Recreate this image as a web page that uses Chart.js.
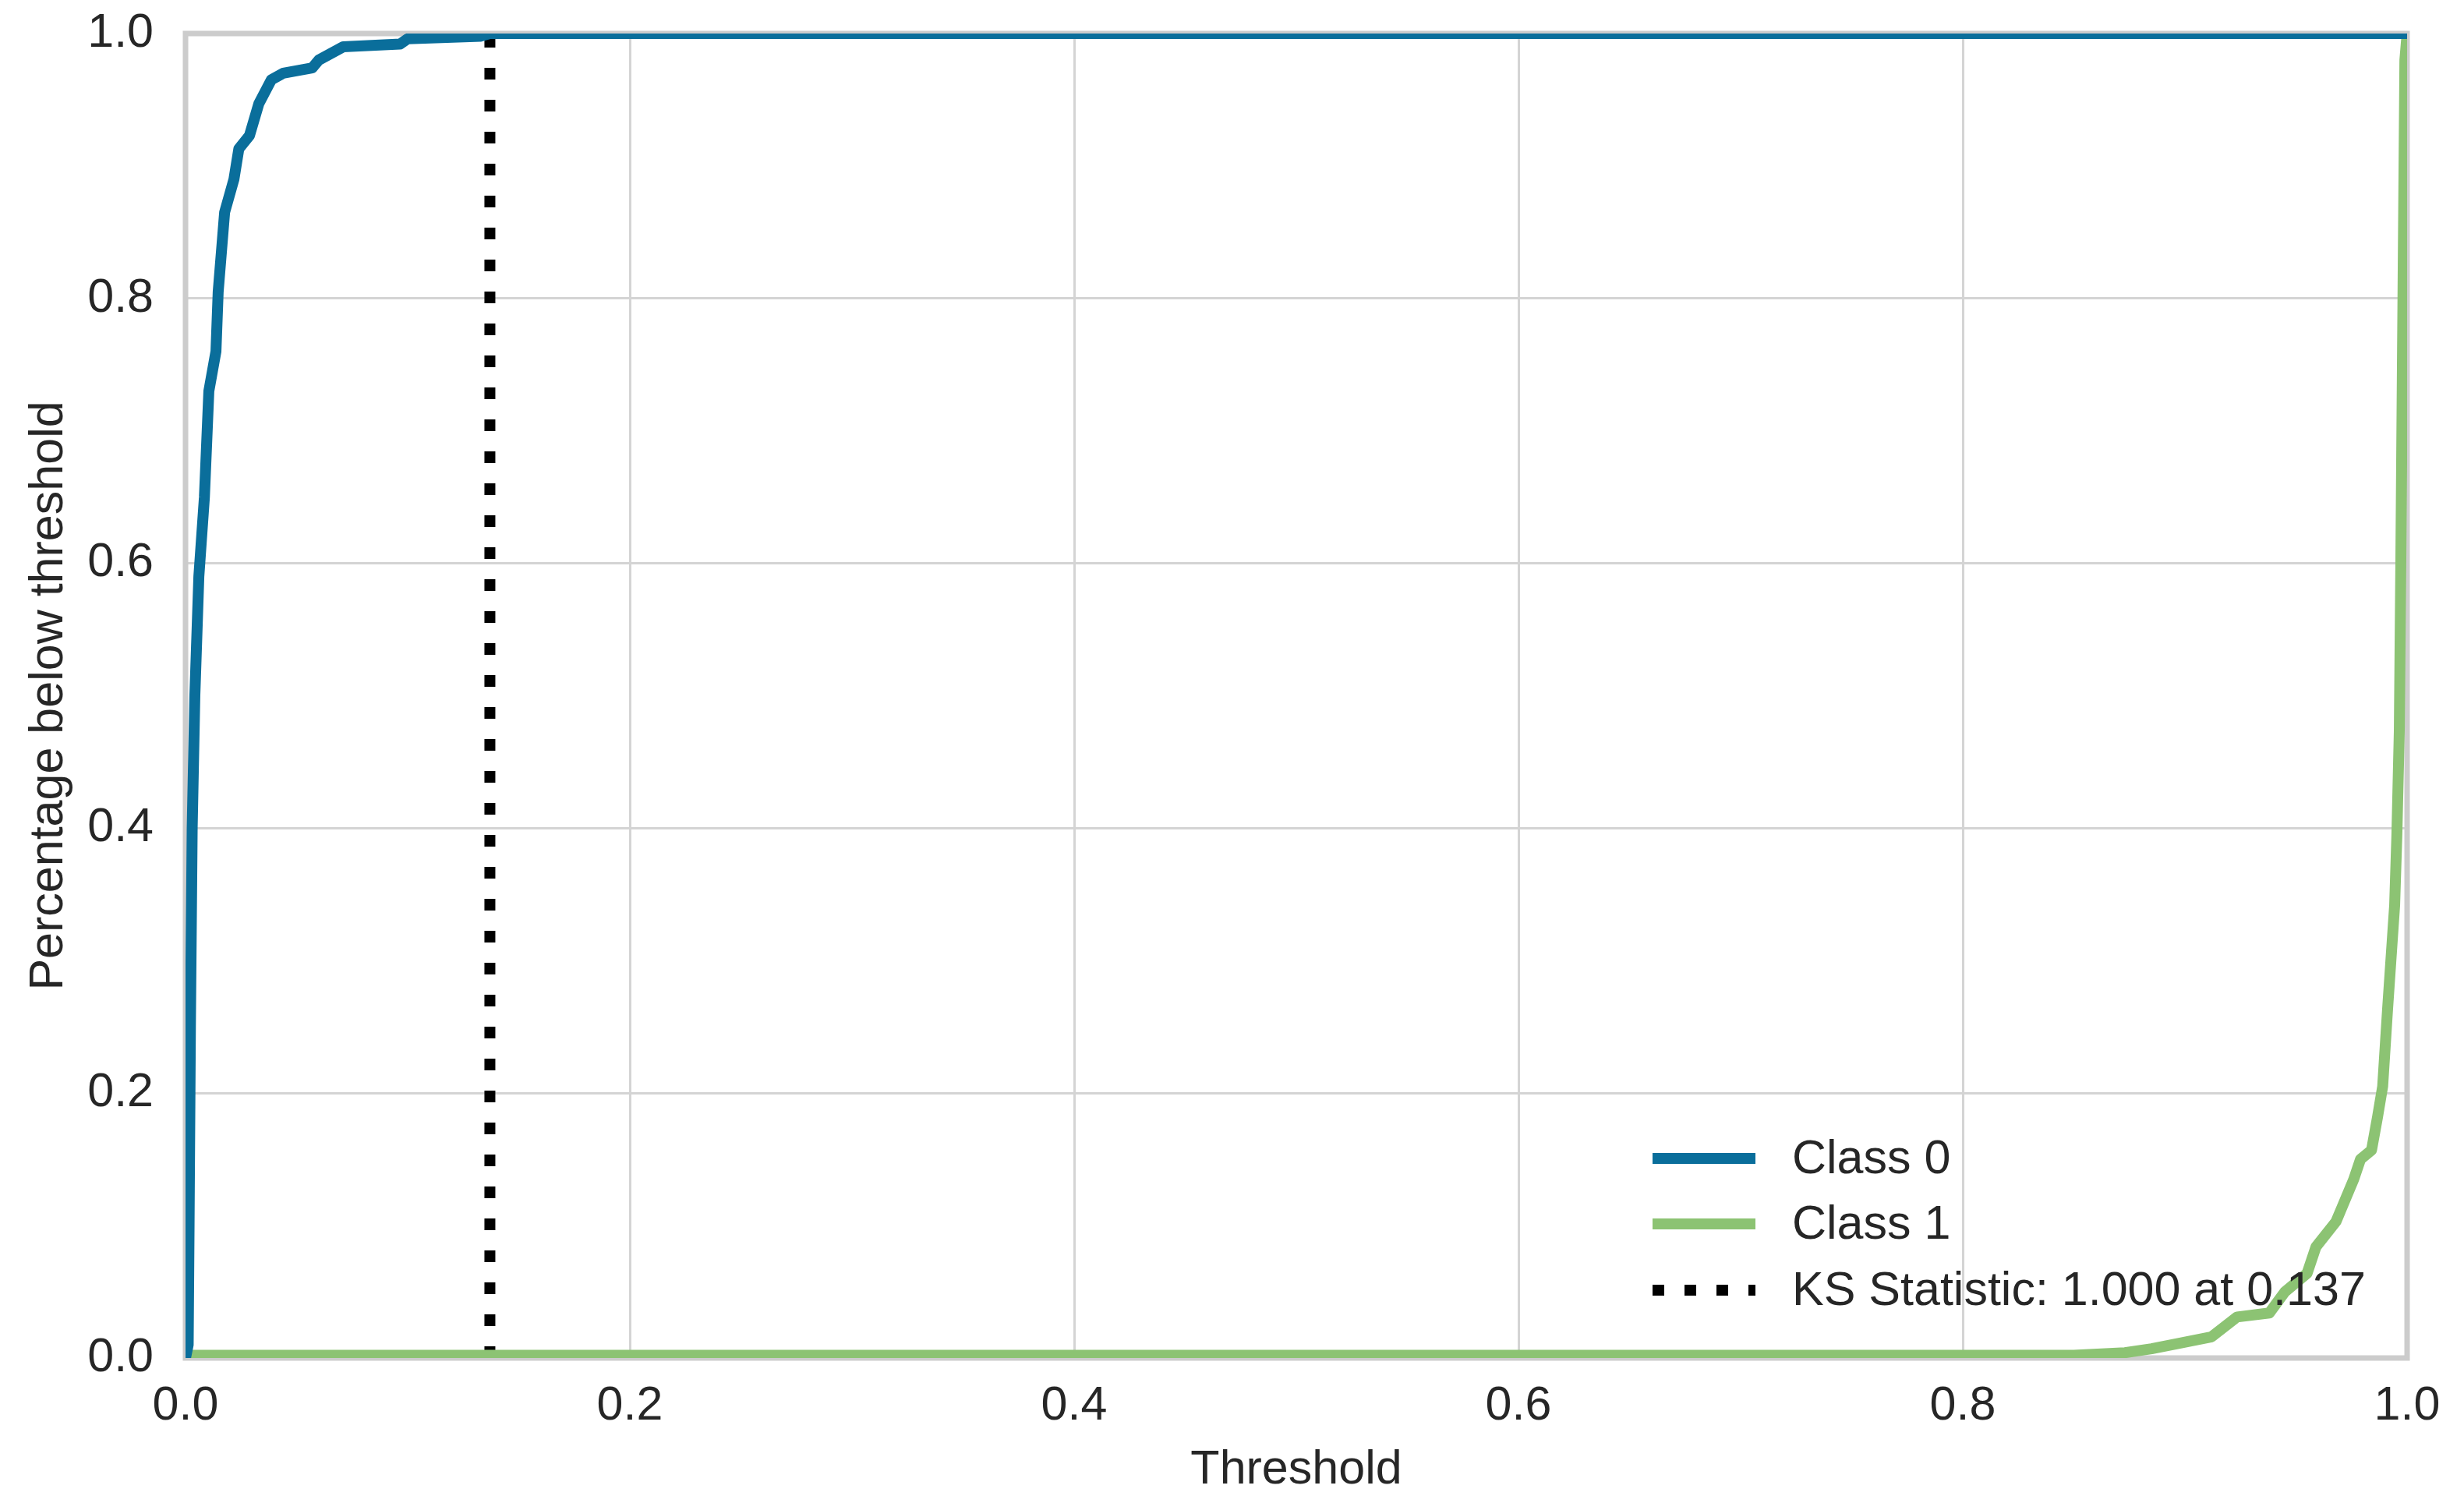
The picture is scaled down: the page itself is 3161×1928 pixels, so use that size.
<!DOCTYPE html>
<html>
<head>
<meta charset="utf-8">
<script src="https://cdn.jsdelivr.net/npm/chart.js@4.4.1/dist/chart.umd.min.js"></script>
<style>
  html, body { margin: 0; padding: 0; background: #fff; }
  #wrap { width: 3161px; height: 1928px; }
</style>
</head>
<body>
<div id="wrap"><canvas id="ksChart" width="3161" height="1928"></canvas></div>
<script>
// values
const class0Thresholds = [0, 0.0012, 0.0016, 0.0022, 0.0030, 0.0042, 0.0060, 0.0085, 0.0105, 0.0137, 0.0147, 0.0176, 0.0218, 0.0240, 0.0288, 0.0330, 0.0386, 0.0440, 0.0570, 0.0600, 0.0710, 0.0966, 0.1000, 0.1330, 0.1370, 1.0];
const class0Pct = [0, 0.01, 0.10, 0.25, 0.40, 0.50, 0.59, 0.65, 0.73, 0.76, 0.805, 0.865, 0.89, 0.913, 0.923, 0.947, 0.965, 0.970, 0.974, 0.980, 0.990, 0.992, 0.996, 0.998, 1.0, 1.0];

const class1Thresholds = [0, 0.850, 0.873, 0.885, 0.897, 0.912, 0.9235, 0.938, 0.945, 0.955, 0.959, 0.968, 0.971, 0.976, 0.979, 0.984, 0.9867, 0.989, 0.9912, 0.9944, 0.9954, 0.9965, 0.9972, 0.999, 1.0];
const class1Pct = [0.002, 0.002, 0.004, 0.007, 0.011, 0.016, 0.031, 0.034, 0.050, 0.064, 0.084, 0.103, 0.115, 0.135, 0.150, 0.157, 0.182, 0.205, 0.263, 0.342, 0.395, 0.474, 0.605, 0.98, 1.0];

const ksThreshold = 0.137;
const ksStatistic = 1.000;

const tickValues = [0, 0.2, 0.4, 0.6, 0.8, 1.0];

const seriesLabels = ['Class 0', 'Class 1', 'KS Statistic: ' + ksStatistic.toFixed(3) + ' at ' + ksThreshold.toFixed(3)];

const TEXT = '#262626';
const FONT = { family: '"Liberation Sans", Arial, sans-serif', size: 61 };

function toPoints(xs, ys) {
  return xs.map((x, i) => ({ x: x, y: ys[i] }));
}

// gray frame round the plot, like the spines
const framePlugin = {
  id: 'frame',
  beforeDatasetsDraw(chart) {
    const a = chart.chartArea;
    const ctx = chart.ctx;
    ctx.save();
    ctx.strokeStyle = '#cccccc';
    ctx.lineWidth = 7;
    ctx.strokeRect(a.left, a.top, a.right - a.left, a.bottom - a.top);
    ctx.restore();
  }
};

// legend inside the lower right corner, no box
const innerLegend = {
  id: 'innerLegend',
  afterDatasetsDraw(chart) {
    const a = chart.chartArea;
    const ctx = chart.ctx;
    const x0 = a.right - 968;
    const x1 = a.right - 836;
    const textX = a.right - 789;
    const rows = [a.bottom - 256, a.bottom - 172, a.bottom - 87];
    ctx.save();
    chart.data.datasets.forEach((ds, i) => {
      const y = rows[i];
      ctx.beginPath();
      ctx.strokeStyle = ds.borderColor;
      ctx.lineWidth = ds.borderWidth;
      ctx.lineCap = 'butt';
      ctx.setLineDash(ds.borderDash || []);
      ctx.moveTo(x0, y);
      ctx.lineTo(x1, y);
      ctx.stroke();
      ctx.setLineDash([]);
      ctx.fillStyle = TEXT;
      ctx.font = FONT.size + 'px ' + FONT.family;
      ctx.textAlign = 'left';
      ctx.textBaseline = 'middle';
      ctx.fillText(ds.label, textX, y + 2);
    });
    ctx.restore();
  }
};

new Chart(document.getElementById('ksChart'), {
  type: 'line',
  data: {
    datasets: [
      {
        label: seriesLabels[0],
        data: toPoints(class0Thresholds, class0Pct),
        borderColor: '#0a6e9b',
        borderWidth: 14,
        borderJoinStyle: 'round',
        pointRadius: 0,
        tension: 0
      },
      {
        label: seriesLabels[1],
        data: toPoints(class1Thresholds, class1Pct),
        borderColor: '#8cc373',
        borderWidth: 14,
        borderJoinStyle: 'round',
        pointRadius: 0,
        tension: 0
      },
      {
        label: seriesLabels[2],
        data: [{ x: ksThreshold, y: 0 }, { x: ksThreshold, y: 1 }],
        borderColor: '#000000',
        borderWidth: 14,
        borderDash: [15, 26],
        borderCapStyle: 'butt',
        pointRadius: 0
      }
    ]
  },
  options: {
    responsive: false,
    animation: false,
    devicePixelRatio: 1,
    layout: { padding: { top: 43, right: 73, left: 0, bottom: 0 } },
    plugins: {
      legend: { display: false },
      tooltip: { enabled: false }
    },
    scales: {
      x: {
        type: 'linear',
        min: 0,
        max: 1,
        afterBuildTicks: (scale) => { scale.ticks = tickValues.map(v => ({ value: v })); },
        afterFit: (scale) => { scale.height = 186; },
        grid: { color: '#d4d4d4', lineWidth: 3, drawTicks: false },
        border: { display: false },
        ticks: {
          color: TEXT,
          font: FONT,
          padding: 26,
          maxRotation: 0,
          callback: (v) => Number(v).toFixed(1)
        },
        title: {
          display: true,
          text: 'Threshold',
          color: TEXT,
          font: FONT,
          padding: { top: 0, bottom: 5 }
        }
      },
      y: {
        type: 'linear',
        min: 0,
        max: 1,
        afterBuildTicks: (scale) => { scale.ticks = tickValues.map(v => ({ value: v })); },
        afterFit: (scale) => {
          scale.width = 238;
          scale.paddingTop = 0;
          scale.paddingBottom = 0;
        },
        grid: { color: '#d4d4d4', lineWidth: 3, drawTicks: false },
        border: { display: false },
        ticks: {
          color: TEXT,
          font: FONT,
          padding: 41,
          callback: (v) => Number(v).toFixed(1)
        },
        title: {
          display: true,
          text: 'Percentage below threshold',
          color: TEXT,
          font: FONT,
          padding: { top: 27, bottom: 0 }
        }
      }
    }
  },
  plugins: [framePlugin, innerLegend]
});
</script>
</body>
</html>
